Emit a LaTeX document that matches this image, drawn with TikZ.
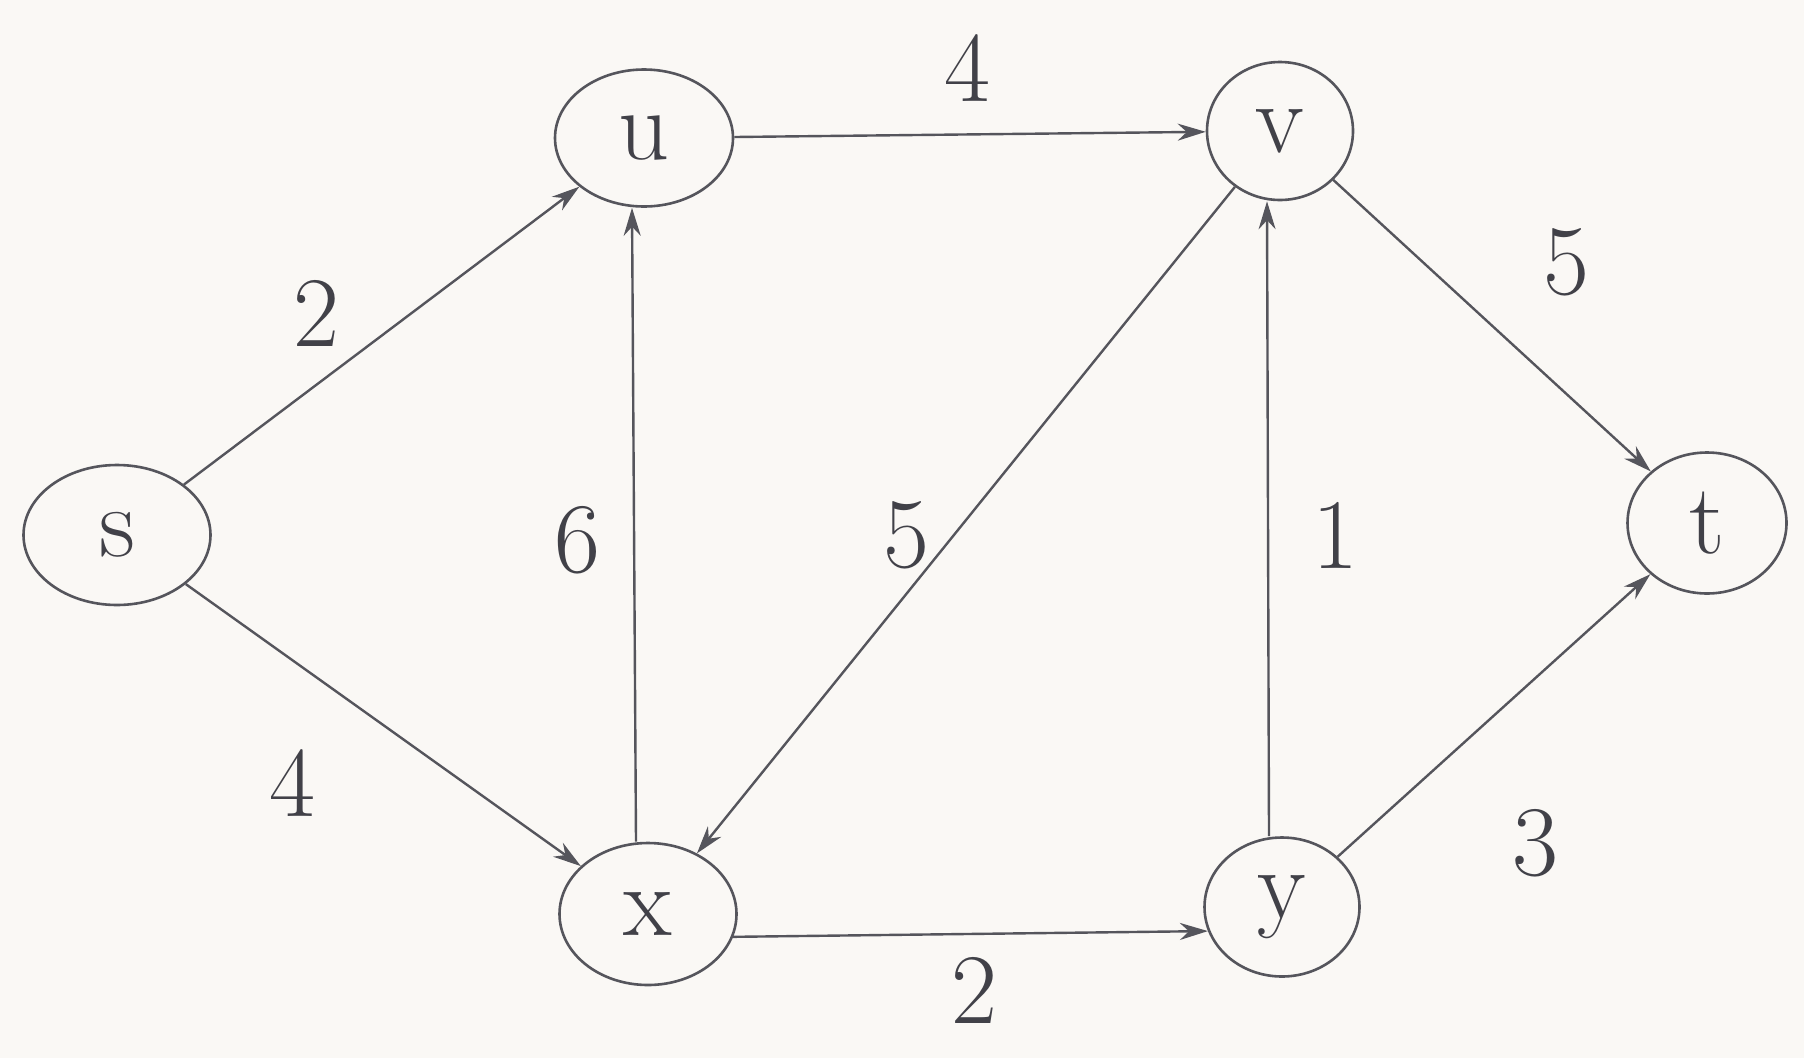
\documentclass[tikz,border=0pt]{standalone}
\usetikzlibrary{shapes.geometric,arrows.meta}
\definecolor{bgc}{RGB}{250,248,245}
\definecolor{inkc}{RGB}{65,65,72}
\definecolor{linec}{RGB}{85,85,92}
\tikzset{
  vert/.style={ellipse,draw=linec,line width=2.6pt,inner sep=0pt,
    minimum width=170pt,minimum height=139pt,
    font=\fontsize{100}{110}\selectfont,text=inkc},
  edge/.style={draw=linec,line width=2.4pt,-{Stealth[length=28pt,width=17pt]}},
  wlabel/.style={font=\fontsize{100}{110}\selectfont,text=inkc,inner sep=0pt}
}
\begin{document}
\begin{tikzpicture}[x=1pt,y=-1pt]
\useasboundingbox[fill=bgc] (0,0) rectangle (1804,1058);
\node[vert,minimum width=187pt,minimum height=140pt] (s) at (117,535) {s};
\node[vert,minimum width=178pt,minimum height=137pt] (u) at (644,138) {u};
\node[vert,minimum width=146pt,minimum height=138pt] (v) at (1280,131) {v};
\node[vert,minimum width=159pt,minimum height=141pt] (t) at (1707,523) {t};
\node[vert,minimum width=177pt,minimum height=142pt] (x) at (648,914) {x};
\node[vert,minimum width=155pt,minimum height=139pt] (y) at (1282,907) {y};

\draw[edge] (s) -- (u);
\draw[edge] (s) -- (x);
\draw[edge] ([xshift=-12pt]x.north) -- ([xshift=-12pt]u.south);
\draw[edge] (u) -- (v);
\draw[edge] (v) -- (x);
\draw[edge] ([xshift=-13pt]y.north) -- ([xshift=-13pt]v.south);
\draw[edge] (v) -- (t);
\draw[edge] (x.-15) -- (y.198);
\draw[edge] (y) -- (t);

\node[wlabel] (l1) at (967,68) {4};
\node[wlabel] (l2) at (316,313) {2};
\node[wlabel] (l3) at (292,783) {4};
\node[wlabel] (l4) at (577,540) {6};
\node[wlabel] (l5) at (906,535) {5};
\node[wlabel] (l6) at (1335,535) {1};
\node[wlabel] (l7) at (1566,262) {5};
\node[wlabel] (l8) at (1535,843) {3};
\node[wlabel] (l9) at (974,990) {2};
\end{tikzpicture}
\end{document}
